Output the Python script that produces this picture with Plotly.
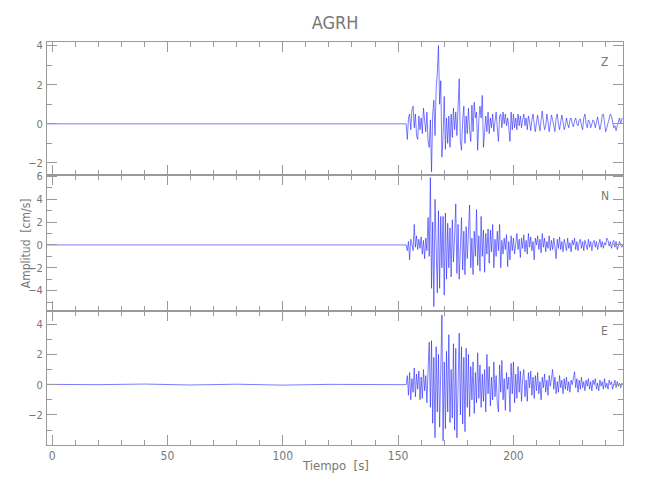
import numpy as np
import plotly.graph_objects as go

# ---------------- data (cm/s) ----------------
STATION = "AGRH"
COMPONENTS = ["Z", "N", "E"]

# quiet pre-event part
pre_t = [-2.2, 20, 40, 60, 80, 100, 120, 140, 153.5]
z_pre = [0, 0, 0, 0, 0, 0, 0, 0, 0]
n_pre = [0, 0, 0, 0, 0, 0, 0, 0, 0]
e_pre = [0.02, 0.0, 0.04, -0.02, 0.03, -0.03, 0.02, -0.01, 0.0]

# event part, samples every 0.5 s starting at 154.0 s
SIG_T0 = 154.0
SIG_DT = 0.5

z_vals = [
    -0.8, 0.3, 0.5, -0.3, 0.7, 0.9, -0.2, 0.5, -0.6, -0.8,      # 154.0
    0.4, -0.3, 0.3, -0.5, 0.8, 0.2, -0.4, 0.6, -0.9, -1.2,      # 159.0
    0.2, -2.45, 0.5, 1.2, -0.6, 1.8, 2.6, 4.0, 1.0, 2.2,        # 164.0
    -1.7, -0.6, 1.4, -1.3, 0.3, -1.0, 0.4, -1.2, 0.5, -0.7,     # 169.0
    0.8, -0.3, 0.6, -0.6, 0.8, 2.3, -0.9, -1.35, 0.2, 0.9,      # 174.0
    -1.0, 0.4, -0.5, 0.8, -0.3, -0.9, 0.95, -0.4, 1.1, 0.3,     # 179.0
    0.6, -1.35, 0.2, 0.9, 0.3, 1.45, -1.2, -0.3, 0.4, -0.4,     # 184.0
    0.6, -0.5, 0.3, -0.2, 0.5, -0.4, 0.3, 0.6, -0.2, -0.9,      # 189.0
    0.4, 0.5, -0.2, 0.6, 0.0, 0.5, -0.1, 0.3, -0.2, -0.9,       # 194.0
    0.6, -0.3, 0.5, -0.2, 0.3, -0.3, 0.5, -0.1, 0.4, -0.2,      # 199.0
    0.2, 0.5, -0.1, 0.3, -0.3, 0.4, 0.1, -0.35, 0.2, 0.5,       # 204.0
    0.0, -0.4, 0.1, 0.45, 0.0, -0.35, 0.2, 0.65, 0.1, -0.3,     # 209.0
    -0.1, 0.5, 0.1, -0.4, 0.0, 0.45, 0.2, -0.2, -0.4, 0.3,      # 214.0
    0.5, 0.0, -0.3, 0.1, 0.45, 0.1, -0.3, -0.1, 0.3, 0.0,       # 219.0
    -0.2, 0.2, 0.3, 0.0, -0.15, 0.15, 0.3, 0.0, -0.1, 0.2,      # 224.0
    0.25, -0.1, -0.3, 0.3, 0.5, 0.0, -0.2, 0.2, 0.1, -0.2,      # 229.0
    0.0, 0.2, 0.1, -0.2, 0.1, 0.35, 0.0, -0.3, 0.0, 0.45,       # 234.0
    0.5, 0.0, -0.4, -0.2, 0.1, 0.3, 0.5, 0.4, 0.0, -0.2,        # 239.0
    -0.1, -0.35, -0.1, 0.2, 0.3, 0.0, 0.25, 0.3,                # 244.0
]

n_vals = [
    -0.5, 0.3, -1.3, 0.5, 0.1, -0.5, 1.8, -0.2, 0.8, -0.4,      # 154.0
    0.5, -0.3, 0.7, -0.8, 0.4, -1.2, 0.6, -0.5, 2.4, -1.0,      # 159.0
    5.9, -3.8, 2.0, -5.4, 4.0, -1.5, -4.2, 3.0, -3.8, 2.5,      # 164.0
    -2.0, 2.5, -4.4, 2.8, -3.0, 1.9, -2.0, 1.5, -2.8, 2.2,      # 169.0
    -1.5, 0.8, 3.6, -2.5, 1.8, -3.0, 0.5, 2.4, -2.2, 1.2,       # 174.0
    -2.6, 1.6, -1.2, 2.0, 3.5, -2.0, 0.6, -2.6, 1.2, -1.0,      # 179.0
    3.1, -1.8, 0.8, -2.3, 2.5, -1.0, 1.3, -2.4, 1.0, -0.8,      # 184.0
    1.4, -1.6, 1.3, -0.6, 1.8, -2.0, 0.5, -1.0, 1.2, -0.5,      # 189.0
    1.8, -2.0, 0.4, -0.8, 0.6, -0.4, 0.9, -1.9, 0.3, -1.3,      # 194.0
    0.8, -0.5, 0.6, -0.8, 0.3, 1.0, -0.4, 0.5, -1.1, 0.6,       # 199.0
    -0.3, 0.9, -0.6, 0.4, -0.8, 1.0, -0.2, 0.7, -0.5, 0.3,      # 204.0
    -1.3, 0.6, 0.0, 0.8, -0.4, 0.5, -0.7, 1.0, -0.2, 0.6,       # 209.0
    -0.6, 0.3, -0.3, 0.8, -0.5, 0.4, -0.4, 0.6, -0.2, -1.2,     # 214.0
    0.5, -0.3, 0.7, -0.4, 0.3, -0.6, 0.5, 0.1, -0.5, 0.6,       # 219.0
    -0.3, 0.2, -0.6, 0.4, 0.0, 0.6, -0.4, 0.3, -0.5, 0.2,       # 224.0
    0.5, -0.3, 0.3, -0.5, 0.4, 0.0, -0.4, 0.5, -0.2, 0.3,       # 229.0
    -0.5, 0.2, 0.4, -0.2, 0.3, -0.4, 0.1, 0.5, -0.2, 0.3,       # 234.0
    -0.3, 0.2, 0.0, 0.6, 0.4, -0.1, 0.3, -0.3, 0.2, 0.4,        # 239.0
    -0.2, 0.3, -0.4, 0.1, 0.3, 0.0, -0.2, 0.1,                  # 244.0
]

e_vals = [
    0.6, -0.7, 0.8, -1.0, 0.4, -0.5, 1.1, -0.8, 0.7, -0.3,      # 154.0
    0.9, -1.0, 0.5, -0.9, 1.0, -0.4, 0.6, -1.2, 1.0, 2.8,       # 159.0
    -1.5, 2.9, -2.55, 1.8, -3.5, 2.5, -1.8, 2.0, -2.8, 1.2,     # 164.0
    4.6, -3.7, 1.5, -2.9, 2.2, -1.8, 3.3, -2.5, 1.0, -2.2,      # 169.0
    2.7, -3.0, 2.4, -3.5, 1.2, 3.4, -2.0, 2.5, -2.6, 1.8,       # 174.0
    -3.1, 2.4, -1.5, 2.0, -2.1, 1.2, -1.0, 1.5, -1.9, 0.8,      # 179.0
    -1.2, 2.1, -0.9, 1.3, -1.5, 0.7, -1.1, 1.0, -1.8, 2.0,      # 184.0
    -0.6, 1.2, -1.4, 0.5, -1.0, 1.5, -0.8, 0.6, -1.2, -1.8,     # 189.0
    1.3, -0.5, 1.6, -1.0, 0.4, -1.7, 0.8, -0.3, 0.5, -1.8,      # 194.0
    1.4, -0.6, 1.5, -1.2, 0.7, -0.9, 1.2, -0.5, 0.9, -1.1,      # 199.0
    0.4, 1.0, -0.8, 0.3, -1.1, 0.8, -0.2, 0.9, -0.7, 0.5,       # 204.0
    -0.9, 0.6, -0.4, 0.8, -0.6, 0.2, -1.0, 0.5, -0.2, 0.7,      # 209.0
    -0.5, 0.3, -0.7, 0.6, -0.1, 0.4, 1.0, -0.3, 0.5, -0.6,      # 214.0
    0.2, -0.5, 0.6, -0.2, 0.3, -0.6, 0.4, -0.3, 0.5, -0.4,      # 219.0
    0.2, -0.5, 0.3, 0.0, 0.5, 0.85, -0.2, 0.4, -0.5, 0.3,       # 224.0
    -0.3, 0.5, -0.2, 0.2, -0.4, 0.3, -0.1, 0.4, -0.3, 0.2,      # 229.0
    -0.4, 0.3, 0.0, 0.4, -0.3, 0.1, -0.4, 0.3, -0.1, 0.2,       # 234.0
    -0.3, 0.4, -0.2, 0.1, -0.3, 0.3, 0.0, 0.2, -0.3, 0.1,       # 239.0
    0.3, -0.2, 0.2, -0.1, 0.1, -0.2, 0.1, 0.0,                  # 244.0
]

X_RANGE = [-2.2, 247.5]
Y_RANGES = {"Z": [-2.63, 4.18], "N": [-5.76, 6.1], "E": [-3.98, 4.88]}
X_TICKS = [0, 50, 100, 150, 200]

# ---------------- figure ----------------
def times(vals):
    return list(pre_t) + list(SIG_T0 + SIG_DT * np.arange(len(vals)))

series = {"Z": z_pre + z_vals, "N": n_pre + n_vals, "E": e_pre + e_vals}
sig_lists = {"Z": z_vals, "N": n_vals, "E": e_vals}

LINE_COLOR = "rgb(35,35,255)"
AXIS_COLOR = "#9a9a9a"
TEXT_COLOR = "#777777"
FONT = "DejaVu Sans Condensed, Liberation Sans Narrow, Roboto Condensed, Liberation Sans, sans-serif"

domains = {"Z": [0.6692, 1.0], "N": [0.3333, 0.6692], "E": [0.0, 0.3333]}

# the page body adds an 8 px offset, so the figure is sized to fit the window
fig = go.Figure()
layout = dict(
    width=642, height=492,
    paper_bgcolor="white", plot_bgcolor="white",
    margin=dict(l=39, r=27, t=34, b=55),
    showlegend=False,
    font=dict(family=FONT, color=TEXT_COLOR, size=12),
    title=dict(text=STATION, x=0.5, xref="paper", xanchor="center",
               y=1 - 14.5 / 492, yref="container", yanchor="middle",
               font=dict(family=FONT, size=18, color=TEXT_COLOR)),
)

annotations = []
for i, comp in enumerate(COMPONENTS):
    k = "" if i == 0 else str(i + 1)
    fig.add_trace(go.Scatter(
        x=times(sig_lists[comp]), y=series[comp], mode="lines",
        line=dict(color=LINE_COLOR, width=0.6),
        xaxis="x" + k, yaxis="y" + k, hoverinfo="skip",
    ))
    common = dict(
        showline=True, linecolor=AXIS_COLOR, linewidth=1, mirror="ticks",
        ticks="inside", tickcolor=AXIS_COLOR, tickwidth=1, ticklen=10,
        showgrid=False, zeroline=False,
        tickfont=dict(family=FONT, size=11, color=TEXT_COLOR),
    )
    layout["xaxis" + k] = dict(
        common, domain=[0, 1], anchor="y" + k, range=X_RANGE,
        tickvals=X_TICKS, showticklabels=(comp == "E"),
        tickfont=dict(family=FONT, size=12, color=TEXT_COLOR),
        minor=dict(dtick=10, tick0=0, ticks="inside", ticklen=5,
                   tickcolor=AXIS_COLOR, showgrid=False),
    )
    layout["yaxis" + k] = dict(
        common, domain=domains[comp], anchor="x" + k, range=Y_RANGES[comp],
        dtick=2, tick0=0, ticklabelstandoff=1,
        minor=dict(dtick=1, tick0=0, ticks="inside", ticklen=5,
                   tickcolor=AXIS_COLOR, showgrid=False),
    )
    annotations.append(dict(
        text=comp, xref="x" + k + " domain", yref="y" + k + " domain",
        x=0.968, y=0.85, showarrow=False, xanchor="center", yanchor="middle",
        font=dict(family=FONT, size=12, color=TEXT_COLOR),
    ))

annotations.append(dict(
    text="Tiempo  [s]", xref="paper", yref="paper", x=0.5, y=-0.052,
    showarrow=False, xanchor="center", yanchor="middle",
    font=dict(family=FONT, size=13, color=TEXT_COLOR),
))
annotations.append(dict(
    text="Amplitud  [cm/s]", xref="paper", yref="paper", x=-0.037, y=0.5,
    textangle=-90, showarrow=False, xanchor="center", yanchor="middle",
    font=dict(family=FONT, size=12, color=TEXT_COLOR),
))
layout["annotations"] = annotations
fig.update_layout(**layout)

fig.write_html("out.html")
